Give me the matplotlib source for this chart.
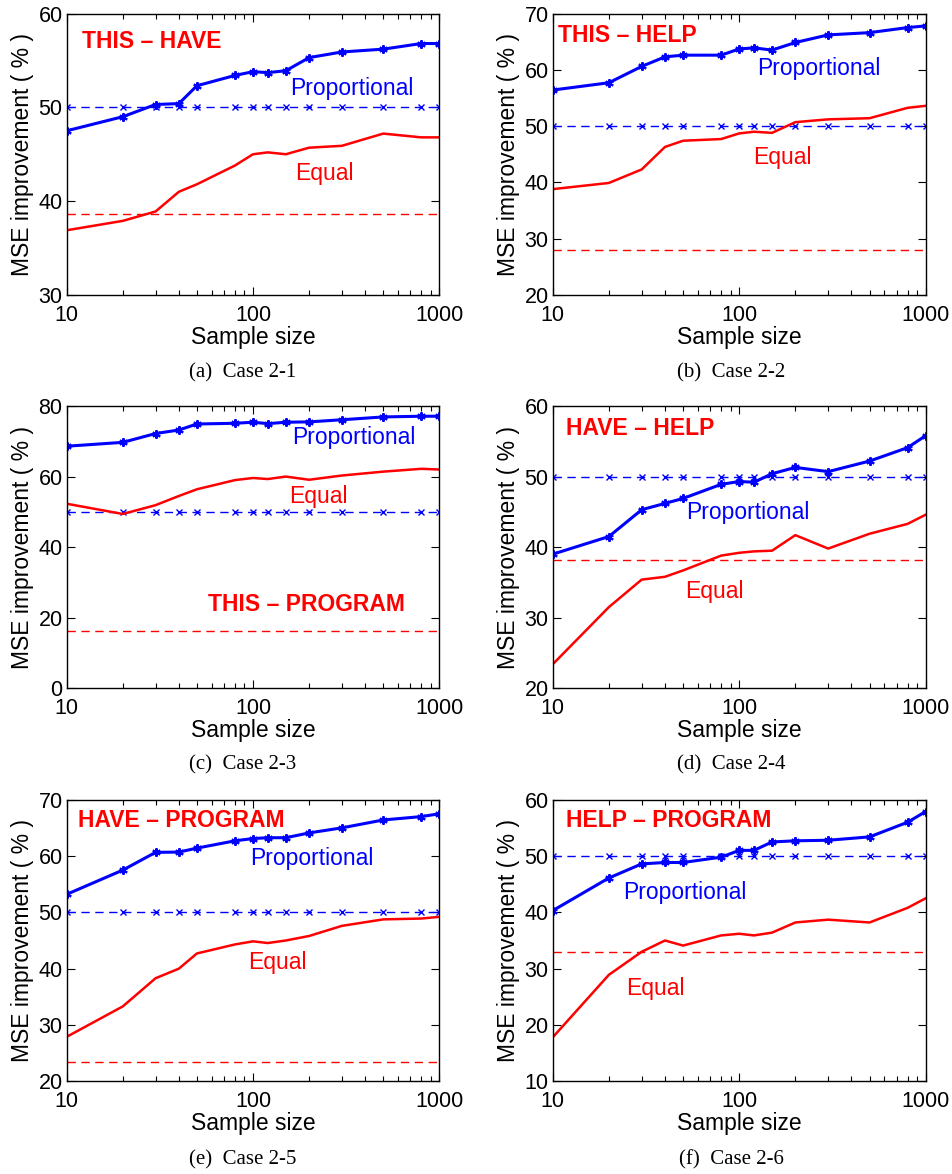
import matplotlib
matplotlib.use("Agg")
import matplotlib.pyplot as plt
from matplotlib.ticker import LogLocator, NullFormatter, FixedLocator

sample_sizes = [10, 20, 30, 40, 50, 80, 100, 120, 150, 200, 300, 500, 800, 1000]

prop_a = [47.5, 49.0, 50.3, 50.4, 52.3, 53.4, 53.8, 53.7, 53.9, 55.3, 55.9, 56.2, 56.8, 56.8]
equal_a = [36.9, 37.9, 38.9, 41.0, 41.8, 43.8, 45.0, 45.2, 45.0, 45.7, 45.9, 47.2, 46.8, 46.8]
ref_equal_a = 38.6

prop_b = [56.4, 57.7, 60.6, 62.3, 62.6, 62.6, 63.7, 63.9, 63.5, 64.85, 66.2, 66.6, 67.5, 67.8]
equal_b = [38.8, 39.9, 42.3, 46.3, 47.4, 47.7, 48.7, 49.0, 48.8, 50.7, 51.2, 51.4, 53.25, 53.6]
ref_equal_b = 28.0

prop_c = [68.6, 69.7, 72.2, 73.2, 74.9, 75.1, 75.4, 75.0, 75.4, 75.5, 76.1, 76.9, 77.1, 77.1]
equal_c = [52.3, 49.4, 51.9, 54.5, 56.4, 59.0, 59.6, 59.3, 60.0, 59.1, 60.3, 61.4, 62.2, 62.0]
ref_equal_c = 16.1

prop_d = [39.0, 41.5, 45.3, 46.2, 46.9, 48.9, 49.3, 49.2, 50.4, 51.3, 50.7, 52.2, 54.1, 55.8]
equal_d = [23.4, 31.5, 35.4, 35.8, 36.7, 38.8, 39.2, 39.4, 39.5, 41.7, 39.8, 41.9, 43.3, 44.6]
ref_equal_d = 38.2

prop_e = [53.2, 57.5, 60.65, 60.7, 61.4, 62.7, 63.1, 63.25, 63.25, 64.1, 65.0, 66.4, 67.0, 67.5]
equal_e = [27.9, 33.3, 38.3, 40.0, 42.7, 44.3, 44.85, 44.55, 45.0, 45.8, 47.6, 48.75, 48.9, 49.2]
ref_equal_e = 23.4

prop_f = [40.3, 46.1, 48.6, 48.85, 48.85, 49.8, 51.0, 51.0, 52.5, 52.7, 52.8, 53.4, 56.0, 57.9]
equal_f = [17.8, 28.9, 33.0, 35.0, 34.1, 35.9, 36.2, 35.9, 36.4, 38.2, 38.7, 38.2, 40.8, 42.5]
ref_equal_f = 33.0

ref_prop = 50.0

pair_titles = ["THIS \u2013 HAVE", "THIS \u2013 HELP", "THIS \u2013 PROGRAM",
               "HAVE \u2013 HELP", "HAVE \u2013 PROGRAM", "HELP \u2013 PROGRAM"]
captions = ["(a)  Case 2-1", "(b)  Case 2-2", "(c)  Case 2-3",
            "(d)  Case 2-4", "(e)  Case 2-5", "(f)  Case 2-6"]
y_ranges = [(30, 60), (20, 70), (0, 80), (20, 60), (20, 70), (10, 60)]
y_steps = [10, 10, 20, 10, 10, 10]

props = [prop_a, prop_b, prop_c, prop_d, prop_e, prop_f]
equals = [equal_a, equal_b, equal_c, equal_d, equal_e, equal_f]
ref_equals = [ref_equal_a, ref_equal_b, ref_equal_c, ref_equal_d, ref_equal_e, ref_equal_f]

# text positions (axes fraction, baseline)
title_pos = [(0.040, 0.878), (0.015, 0.897), (0.380, 0.274),
             (0.036, 0.896), (0.029, 0.903), (0.035, 0.904)]
prop_pos = [(0.599, 0.712), (0.549, 0.780), (0.604, 0.867),
            (0.357, 0.601), (0.492, 0.768), (0.189, 0.649)]
equal_pos = [(0.613, 0.408), (0.536, 0.465), (0.597, 0.658),
             (0.355, 0.320), (0.487, 0.400), (0.198, 0.306)]

W, H = 953, 1174
fig = plt.figure(figsize=(W / 100, H / 100), dpi=100)

lefts = [66.7, 552.7]
widths = [372.6, 373.0]
tops = [13.5, 406.0, 799.7]
heights = [281.5, 282.3, 281.6]
cap_y = [373, 765, 1160]
cap_x = [243, 731]

sans = ["Liberation Sans", "DejaVu Sans"]
serif = ["Liberation Serif", "DejaVu Serif"]
asterisk = (6, 2, 0)

for i in range(6):
    r, c = divmod(i, 2)
    l = lefts[c]
    t = tops[r]
    w = widths[c]
    h = heights[r]
    ax = fig.add_axes([l / W, 1 - (t + h) / H, w / W, h / H])
    ax.set_xscale("log")
    ax.plot(sample_sizes, [ref_prop] * len(sample_sizes), color="#0000ff", lw=1.0,
            ls=(0, (6, 4)), marker="x", ms=4, mew=1.0)
    ax.plot(sample_sizes, [ref_equals[i]] * len(sample_sizes), color="#ff0000", lw=1.0,
            ls=(0, (6, 4)))
    ax.plot(sample_sizes, equals[i], color="#ff0000", lw=1.8)
    ax.plot(sample_sizes, props[i], color="#0000ff", lw=2.2, marker=asterisk, ms=6, mew=1.5)

    y0, y1 = y_ranges[i]
    ax.set_xlim(10, 1000)
    ax.set_ylim(y0, y1)
    ax.yaxis.set_major_locator(FixedLocator(list(range(y0, y1 + 1, y_steps[i]))))
    ax.xaxis.set_major_locator(FixedLocator([10, 100, 1000]))
    ax.xaxis.set_minor_locator(LogLocator(base=10, subs=range(2, 10)))
    ax.xaxis.set_minor_formatter(NullFormatter())
    ax.set_xticklabels(["10", "100", "1000"])
    ax.tick_params(which="both", direction="in", top=True, right=True,
                   labelsize=15.5, width=0.8)
    ax.tick_params(axis="y", which="both", pad=3)
    ax.tick_params(axis="x", which="both", pad=7)
    ax.tick_params(which="major", length=6)
    ax.tick_params(which="minor", length=3.5)
    for lab in ax.get_xticklabels() + ax.get_yticklabels():
        lab.set_family(sans)
    for s in ax.spines.values():
        s.set_linewidth(1.0)
    ax.set_xlabel("Sample size", fontsize=16.5, family=sans, labelpad=0)
    ax.set_ylabel("MSE improvement ( % )", fontsize=16.5, family=sans, labelpad=3)

    tx, ty = title_pos[i]
    ax.text(tx, ty, pair_titles[i], transform=ax.transAxes, color="#ff0000",
            fontsize=16.5, fontweight="bold", family=sans, va="baseline", ha="left")
    px, py = prop_pos[i]
    ax.text(px, py, "Proportional", transform=ax.transAxes, color="#0000ff",
            fontsize=16.5, family=sans, va="baseline", ha="left")
    ex, ey = equal_pos[i]
    ax.text(ex, ey, "Equal", transform=ax.transAxes, color="#ff0000",
            fontsize=16.5, family=sans, va="baseline", ha="left")

    fig.text(cap_x[c] / W, 1 - cap_y[r] / H, captions[i], fontsize=15,
             family=serif, ha="center", va="center")

fig.savefig("out.png", dpi=100)
